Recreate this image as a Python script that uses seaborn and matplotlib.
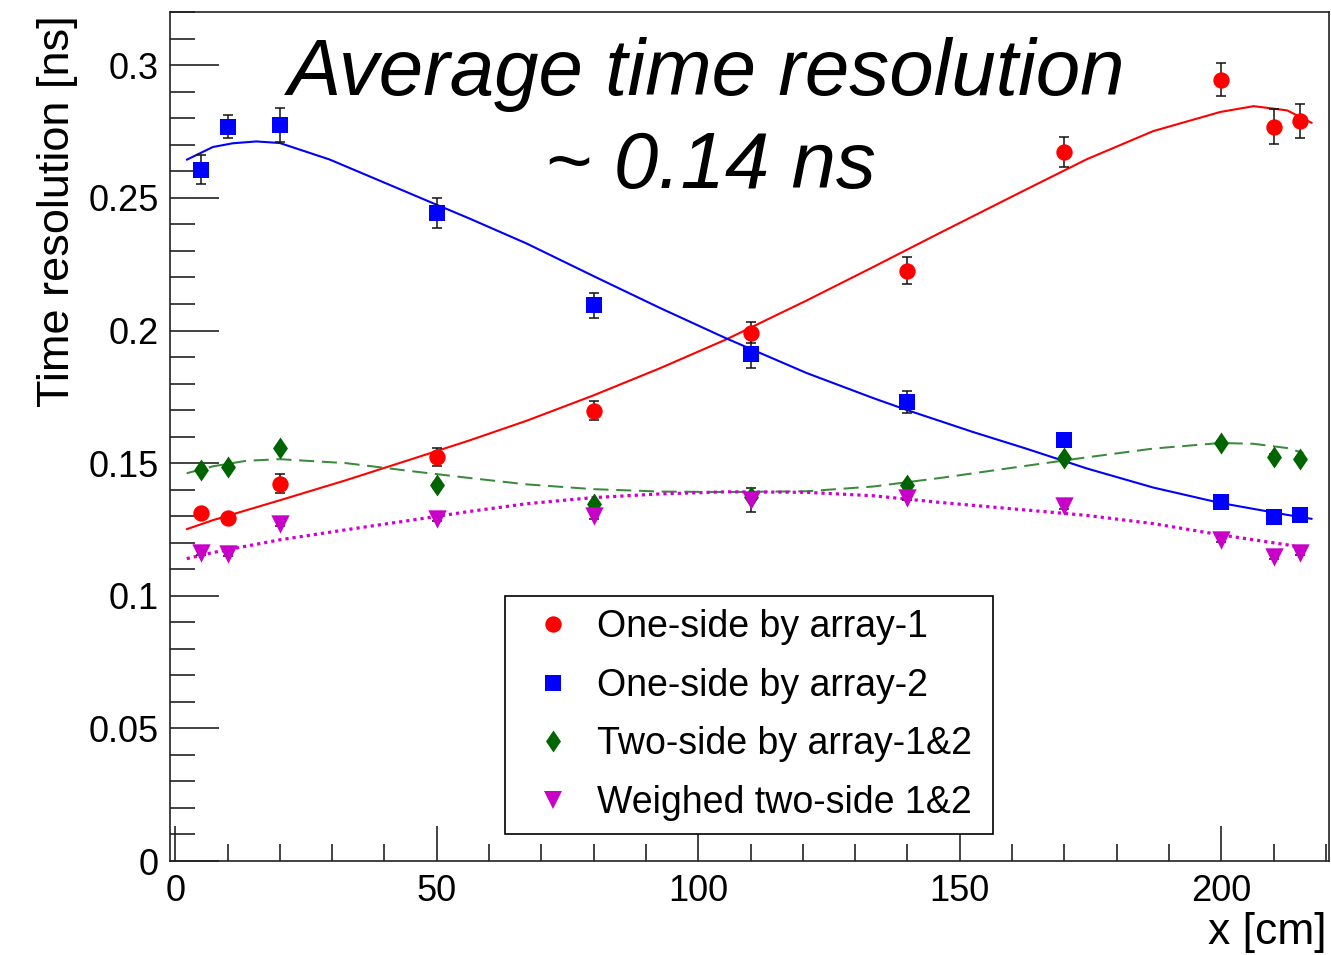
import numpy as np
import pandas as pd
import matplotlib
matplotlib.use("Agg")
import matplotlib.pyplot as plt
from matplotlib.ticker import MultipleLocator
from matplotlib.lines import Line2D
from matplotlib.path import Path
import seaborn as sns

# ---------------- data points ----------------
x_pos = [5, 10, 20, 50, 80, 110, 140, 170, 200, 210, 215]

res_array1 = [0.1313, 0.1294, 0.1422, 0.1524, 0.1697, 0.1992, 0.2226, 0.2674, 0.2946, 0.2769, 0.2791]
err_array1 = [0.0008, 0.0008, 0.0036, 0.0034, 0.0036, 0.0040, 0.0050, 0.0057, 0.0063, 0.0065, 0.0064]

res_array2 = [0.2607, 0.2769, 0.2775, 0.2443, 0.2096, 0.1912, 0.1731, 0.1588, 0.1352, 0.1297, 0.1306]
err_array2 = [0.0055, 0.0043, 0.0063, 0.0055, 0.0047, 0.0055, 0.0041, 0.0022, 0.0008, 0.0008, 0.0008]

res_two = [0.1475, 0.1485, 0.1557, 0.1416, 0.1345, 0.1373, 0.1418, 0.1519, 0.1576, 0.1525, 0.1516]
err_two = [0.0008, 0.0008, 0.0008, 0.0008, 0.0008, 0.0010, 0.0008, 0.0008, 0.0008, 0.0008, 0.0008]

res_weighted = [0.1160, 0.1158, 0.1271, 0.1290, 0.1299, 0.1362, 0.1368, 0.1337, 0.1211, 0.1148, 0.1161]
err_weighted = [0.0008, 0.0008, 0.0008, 0.0008, 0.0008, 0.0045, 0.0008, 0.0008, 0.0008, 0.0008, 0.0008]

# ---------------- fit curves ----------------
fit1_x = [2.2, 7.2, 20.0, 32.7, 45.5, 56.3, 67.2, 79.9, 92.7, 105.4, 120.7, 133.5, 146.2,
          162.5, 174.3, 187.0, 199.8, 206.2, 212.6, 217.3]
fit1_y = [0.1251, 0.1285, 0.1360, 0.1436, 0.1517, 0.1586, 0.1660, 0.1755, 0.1858, 0.1967,
          0.2113, 0.2240, 0.2368, 0.2530, 0.2646, 0.2752, 0.2824, 0.2846, 0.2830, 0.2783]

fit2_x = [2.2, 7.2, 11.0, 15.5, 20.0, 29.5, 39.1, 49.9, 56.3, 67.2, 79.9, 92.7, 105.4,
          120.7, 133.5, 139.8, 152.6, 162.5, 174.3, 187.0, 199.8, 212.6, 217.3]
fit2_y = [0.2644, 0.2692, 0.2706, 0.2713, 0.2707, 0.2645, 0.2565, 0.2475, 0.2422, 0.2328,
          0.2206, 0.2085, 0.1970, 0.1840, 0.1745, 0.1701, 0.1617, 0.1556, 0.1480, 0.1408,
          0.1350, 0.1305, 0.1290]

fit3_x = [2.2, 7.2, 13.6, 20.0, 32.7, 45.5, 56.3, 67.2, 79.9, 92.7, 105.4, 120.7, 133.5,
          146.2, 163.4, 174.3, 187.0, 199.8, 206.2, 212.6, 215.7]
fit3_y = [0.1462, 0.1488, 0.1509, 0.1515, 0.1500, 0.1469, 0.1444, 0.1420, 0.1402, 0.1393,
          0.1391, 0.1394, 0.1412, 0.1444, 0.1492, 0.1522, 0.1555, 0.1576, 0.1573, 0.1557,
          0.1538]

fit4_x = [2.2, 7.2, 20.0, 32.7, 45.5, 56.3, 67.2, 79.9, 92.7, 105.4, 120.7, 133.5, 146.2,
          163.4, 174.3, 187.0, 199.8, 212.6, 215.7]
fit4_y = [0.1140, 0.1163, 0.1211, 0.1249, 0.1286, 0.1318, 0.1347, 0.1370, 0.1384, 0.1392,
          0.1390, 0.1377, 0.1352, 0.1322, 0.1303, 0.1272, 0.1230, 0.1192, 0.1180]

labels = ["One-side by array-1", "One-side by array-2",
          "Two-side by array-1&2", "Weighed two-side 1&2"]

# ---------------- styling ----------------
sns.set_style("ticks")
plt.rcParams['font.family'] = ['Liberation Sans', 'DejaVu Sans']
plt.rcParams['text.color'] = 'black'
plt.rcParams['axes.labelcolor'] = 'black'
plt.rcParams['xtick.color'] = 'black'
plt.rcParams['ytick.color'] = 'black'

fig = plt.figure(figsize=(13.31, 9.55), dpi=100)
ax = fig.add_axes([170 / 1331, 1 - 861 / 955, 1159 / 1331, 849 / 955])

thin_diamond = Path([(0, 1), (0.68, 0), (0, -1), (-0.68, 0), (0, 1)],
                    [Path.MOVETO, Path.LINETO, Path.LINETO, Path.LINETO, Path.CLOSEPOLY])

series = [
    (res_array1, err_array1, fit1_x, fit1_y, "#ff0000", "o", 139,
     dict(color="#ff0000", linestyle="-", linewidth=1.5)),
    (res_array2, err_array2, fit2_x, fit2_y, "#0000ff", "s", 149,
     dict(color="#0000ff", linestyle="-", linewidth=1.5)),
    (res_two, err_two, fit3_x, fit3_y, "#006400", thin_diamond, 250,
     dict(color="#3a8a3a", linestyle=(0, (7.5, 3.8)), linewidth=1.45)),
    (res_weighted, err_weighted, fit4_x, fit4_y, "#c800c8", "v", 175,
     dict(color="#d000d0", linestyle=(0, (1.0, 1.25)), linewidth=2.3)),
]

xs = np.array(x_pos, dtype=float)
for vals, errs, fx, fy, col, mk, s, lstyle in series:
    fit_df = pd.DataFrame({"x": fx, "y": fy})
    sns.lineplot(data=fit_df, x="x", y="y", ax=ax, sort=True, zorder=2, **lstyle)
    ax.errorbar(xs, vals, yerr=errs, fmt="none", ecolor="#111111",
                elinewidth=1.1, capsize=3.3, capthick=1.1, zorder=3)
    df = pd.DataFrame({"x": xs, "y": vals})
    sns.scatterplot(data=df, x="x", y="y", ax=ax, color=col, marker=mk, s=s,
                    linewidth=0, zorder=4, legend=False)

ax.set_xlim(-1.0, 220.6)
ax.set_ylim(0, 0.3201)

ax.xaxis.set_major_locator(MultipleLocator(50))
ax.xaxis.set_minor_locator(MultipleLocator(10))
ax.yaxis.set_minor_locator(MultipleLocator(0.01))
ax.set_yticks([0, 0.05, 0.1, 0.15, 0.2, 0.25, 0.3])
ax.set_yticklabels(["0", "0.05", "0.1", "0.15", "0.2", "0.25", "0.3"])

ax.tick_params(axis="both", which="both", direction="in", color="#222222",
               labelcolor="black", width=1.2, labelsize=26, top=False, right=False)
ax.tick_params(axis="x", which="major", length=25, pad=9)
ax.tick_params(axis="x", which="minor", length=12)
ax.tick_params(axis="y", which="major", length=35, pad=8)
ax.tick_params(axis="y", which="minor", length=18)
for sp in ax.spines.values():
    sp.set_color("#222222")
    sp.set_linewidth(1.2)

ax.set_xlabel("x [cm]", fontsize=32, loc="right", color="black")
ax.xaxis.set_label_coords(0.998, -0.06)
ax.set_ylabel("Time resolution [ns]", fontsize=32.5, loc="top", color="black")
ax.yaxis.set_label_coords(-0.079, 0.9965)

ax.text(0.463, 0.902, "Average time resolution", transform=ax.transAxes,
        fontsize=57.5, style="italic", ha="center", va="baseline", color="black")
ax.text(0.466, 0.793, "~ 0.14 ns", transform=ax.transAxes,
        fontsize=57.5, style="italic", ha="center", va="baseline", color="black")

handles = [Line2D([], [], linestyle="none", marker=mk, color=col,
                  markersize=np.sqrt(s), markeredgewidth=0)
           for (_, _, _, _, col, mk, s, _) in series]
leg = ax.legend(handles, labels, loc="lower left",
                bbox_to_anchor=(0.289, 0.032, 0.421, 0.28), mode="expand",
                fontsize=27, frameon=True, fancybox=False, edgecolor="black",
                framealpha=1, borderaxespad=0, labelspacing=0.6,
                handlelength=1.87, handletextpad=0.24, borderpad=0.35,
                labelcolor="black")
leg.get_frame().set_linewidth(1.2)

fig.savefig("out.png", dpi=100)
